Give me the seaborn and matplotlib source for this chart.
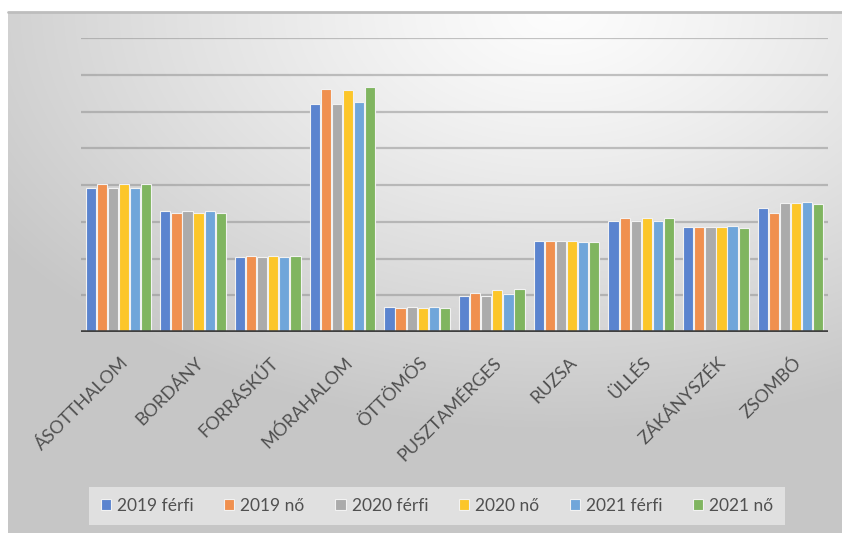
import numpy as np
import pandas as pd
import matplotlib
matplotlib.use("Agg")
import matplotlib.pyplot as plt
import seaborn as sns

categories = ["ÁSOTTHALOM", "BORDÁNY", "FORRÁSKÚT", "MÓRAHALOM", "ÖTTÖMÖS",
              "PUSZTAMÉRGES", "RUZSA", "ÜLLÉS", "ZÁKÁNYSZÉK", "ZSOMBÓ"]
series = ["2019 férfi", "2019 nő", "2020 férfi", "2020 nő", "2021 férfi", "2021 nő"]

v2019_ferfi = [3.91, 3.29, 2.04, 6.21, 0.69, 0.99, 2.48, 3.02, 2.85, 3.37]
v2019_no    = [4.02, 3.25, 2.07, 6.60, 0.64, 1.07, 2.48, 3.11, 2.85, 3.24]
v2020_ferfi = [3.91, 3.29, 2.04, 6.21, 0.69, 0.99, 2.48, 3.02, 2.85, 3.51]
v2020_no    = [4.02, 3.25, 2.07, 6.58, 0.65, 1.13, 2.48, 3.11, 2.85, 3.51]
v2021_ferfi = [3.91, 3.29, 2.04, 6.25, 0.69, 1.03, 2.45, 3.02, 2.89, 3.54]
v2021_no    = [4.02, 3.25, 2.07, 6.67, 0.65, 1.17, 2.45, 3.11, 2.83, 3.47]

colors = ["#5B84CF", "#F0904F", "#ABABAB", "#FCC62A", "#70A6DA", "#80B560"]

values = [v2019_ferfi, v2019_no, v2020_ferfi, v2020_no, v2021_ferfi, v2021_no]
rows = []
for s, vals in zip(series, values):
    for c, v in zip(categories, vals):
        rows.append({"Település": c, "Sorozat": s, "Érték": v})
df = pd.DataFrame(rows)

sns.set_theme(style="white")
plt.rcParams["font.family"] = ["Lato", "DejaVu Sans"]

W, H = 842, 533
fig = plt.figure(figsize=(W / 100, H / 100), dpi=100)
fig.patch.set_facecolor("white")

# background gradient (chart area)
bg = fig.add_axes([8 / W, 0, (W - 8) / W, (H - 12) / H], zorder=-10)
gx, gy = np.meshgrid(np.linspace(0, 1, 400), np.linspace(0, 1, 260))
d = np.sqrt(((gx - 0.66) / 1.0) ** 2 + ((gy - 0.0) / 1.0) ** 2)
d = np.clip(d / 0.8, 0, 1)
shade = 0.99 - 0.21 * d ** 1.2
bg.imshow(np.dstack([shade, shade, shade]), aspect="auto", extent=[0, 1, 0, 1],
          origin="upper", interpolation="bilinear")
bg.set_axis_off()
bg.plot([0, 1], [1, 1], color="#bdbdbd", lw=2, transform=bg.transAxes, clip_on=False)

ax = fig.add_axes([81 / W, 1 - 332 / H, (828 - 81) / W, (332 - 38) / H])
ax.patch.set_alpha(0)
sns.barplot(data=df, x="Település", y="Érték", hue="Sorozat", hue_order=series,
            order=categories, palette=colors, width=0.89, gap=0.08, saturation=1,
            edgecolor="#f2f2f2", linewidth=0.8, ax=ax, legend=True,
            errorbar=None, zorder=3)

ax.set_ylim(0, 8)
ax.set_xlim(-0.5, len(categories) - 0.5)
for yv in range(1, 9):
    ax.axhline(yv, color="#8c8c8c", alpha=0.5, lw=1.6, zorder=1)
ax.axhline(0, color="#404040", lw=2.6, zorder=5)
for sp in ax.spines.values():
    sp.set_visible(False)
ax.set_yticks([])
ax.set_xlabel("")
ax.set_ylabel("")
ax.tick_params(axis="x", length=0, pad=16)
ax.set_xticks(range(len(categories)))
ax.set_xticklabels(categories, rotation=45, ha="right", va="top",
                   rotation_mode="anchor", fontsize=13, color="#505050")
for lab in ax.get_xticklabels():
    lab.set_transform(lab.get_transform() + matplotlib.transforms.ScaledTranslation(2 / 100, 0, fig.dpi_scale_trans))

handles, labels = ax.get_legend_handles_labels()
ax.legend_.remove()
leg = fig.legend(handles, labels, loc="center", bbox_to_anchor=(437 / W, 1 - 506 / H),
                 ncol=6, frameon=True, fontsize=12.5, handlelength=0.6, handleheight=0.6,
                 handletextpad=0.35, columnspacing=1.75, borderpad=0.65)
leg.get_frame().set_facecolor("#ececec")
leg.get_frame().set_alpha(0.7)
leg.get_frame().set_edgecolor("none")
leg.get_frame().set_boxstyle("square", pad=0)
for t in leg.get_texts():
    t.set_color("#505050")

fig.savefig("out.png", dpi=100)
